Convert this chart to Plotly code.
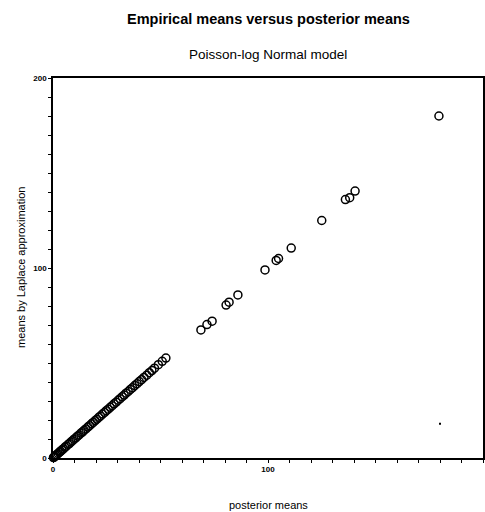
import plotly.graph_objects as go

# posterior means (x) vs means by Laplace approximation (y)
post_means = [0.2, 0.5, 0.9, 1.3, 1.8, 2.4, 3.0, 3.5, 4.1, 4.8, 5.5, 6.2, 7.0, 7.6,
              8.3, 9.1, 9.8, 10.6, 11.4, 12.1, 13.0, 13.8, 14.5, 15.3, 16.2, 17.0,
              17.9, 18.7, 19.6, 20.4, 21.3, 22.1, 23.0, 24.0, 24.8, 25.7, 26.6, 27.5,
              28.4, 29.4, 30.3, 31.2, 32.2, 33.1, 34.0, 35.0, 36.0, 37.0, 38.0, 39.1,
              40.1, 41.2, 42.3, 43.6, 44.8, 46.0, 47.2, 49.0, 50.8, 52.5,
              68.8, 71.6, 74.0, 80.5, 81.9, 86.0,
              98.6, 103.8, 104.9, 110.8, 125.0, 136.0, 138.0, 140.5, 179.5]
laplace_means = [0.2, 0.5, 0.9, 1.4, 1.8, 2.4, 3.1, 3.5, 4.2, 4.8, 5.6, 6.2, 7.1, 7.6,
                 8.4, 9.1, 9.9, 10.6, 11.5, 12.1, 13.1, 13.8, 14.6, 15.3, 16.3, 17.0,
                 18.0, 18.7, 19.7, 20.4, 21.4, 22.1, 23.1, 24.0, 24.9, 25.7, 26.7, 27.5,
                 28.5, 29.4, 30.4, 31.2, 32.3, 33.1, 34.1, 35.0, 36.1, 37.0, 38.1, 39.1,
                 40.2, 41.2, 42.4, 43.6, 44.9, 46.0, 47.3, 49.1, 50.9, 52.6,
                 67.4, 70.2, 72.0, 80.5, 82.0, 85.8,
                 99.0, 104.0, 105.0, 110.5, 125.0, 136.0, 137.0, 140.5, 180.0]
# stray speck visible in the scanned picture
speck_x = [180.0]
speck_y = [18.0]

x_ticks = [0, 100, 200]
y_ticks = [0, 100, 200]
x_tick_text = ["<b>0</b>", "<b>100</b>", "<b>200</b>"]
y_tick_text = ["<b>0</b>", "<b>100</b>", "<b>200</b>"]

fig = go.Figure()
fig.add_trace(go.Scatter(
    x=post_means, y=laplace_means, mode="markers", cliponaxis=False,
    marker=dict(symbol="circle-open", size=8, color="black", line=dict(width=1.5, color="black")),
    showlegend=False))
fig.add_trace(go.Scatter(
    x=speck_x, y=speck_y, mode="markers", cliponaxis=False,
    marker=dict(symbol="square", size=2, color="black"), showlegend=False))

font = "Liberation Sans, Arial, sans-serif"
axis_common = dict(
    range=[0, 200], showgrid=False, zeroline=False, showline=True, mirror=True,
    linecolor="black", linewidth=1.5, ticks="outside", ticklen=3, tickwidth=1,
    tickcolor="black", tickfont=dict(family=font, size=8, color="black"),
    minor=dict(dtick=10, ticks="outside", ticklen=3, tickcolor="black", tickwidth=1),
    automargin=False,
)
fig.update_xaxes(**axis_common, tickvals=x_ticks, ticktext=x_tick_text)
fig.update_yaxes(**axis_common, tickvals=y_ticks, ticktext=y_tick_text)

fig.update_layout(
    width=485, height=512,
    margin=dict(l=53, r=2, t=78, b=54, autoexpand=False),
    paper_bgcolor="white", plot_bgcolor="white",
    font=dict(family=font, color="black"),
    annotations=[
        dict(text="<b>Empirical means versus posterior means</b>", xref="paper", yref="paper",
             x=0.5, y=1 + (78 - 19) / 380, xanchor="center", yanchor="middle",
             showarrow=False, font=dict(size=14.5, family=font)),
        dict(text="Poisson-log Normal model", xref="paper", yref="paper",
             x=0.5, y=1 + (78 - 55) / 380, xanchor="center", yanchor="middle",
             showarrow=False, font=dict(size=13.5, family=font)),
        dict(text="posterior means", xref="paper", yref="paper",
             x=0.5, y=-(505 - 458) / 380, xanchor="center", yanchor="middle",
             showarrow=False, font=dict(size=11, family=font)),
        dict(text="means by Laplace approximation", xref="paper", yref="paper",
             x=-(53 - 21) / 430, y=0.5, xanchor="center", yanchor="middle", textangle=-90,
             showarrow=False, font=dict(size=11, family=font)),
    ],
)

fig.write_html("out.html", config={"displayModeBar": False},
               post_script="document.body.style.margin='0px';document.body.style.overflow='hidden';")
